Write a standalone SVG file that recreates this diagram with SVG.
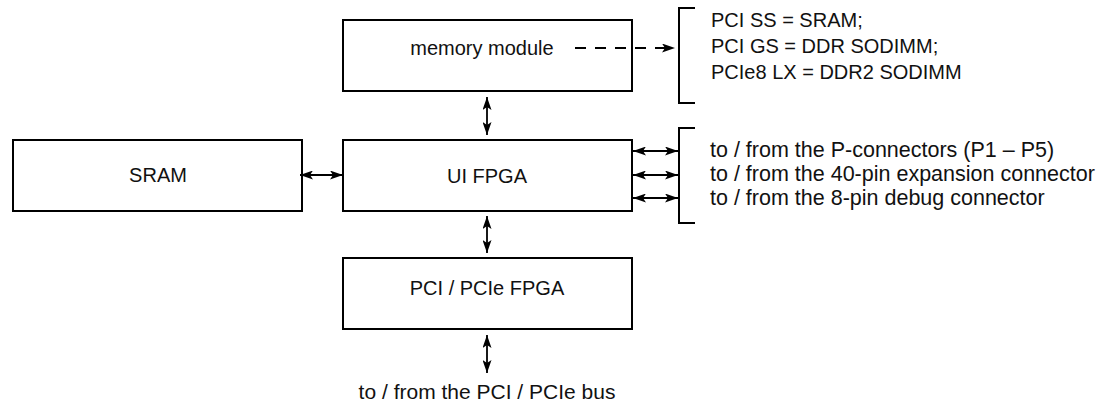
<svg xmlns="http://www.w3.org/2000/svg" width="1108" height="404" viewBox="0 0 1108 404">
<style>
.box{fill:#fff;stroke:#000;stroke-width:2}
.t{font-family:"Liberation Sans",Arial,sans-serif;font-size:20px;fill:#111}
.tl{font-size:21px}
.tr{font-size:21.5px}
.c{stroke:#000;stroke-width:1.8;fill:none}
.br{stroke:#000;stroke-width:2;fill:none}
</style>
<defs>
<marker id="ah" viewBox="0 0 13 9" refX="13" refY="4.5" markerWidth="13" markerHeight="9" markerUnits="userSpaceOnUse" orient="auto-start-reverse">
<path d="M0,0 L13,4.5 L0,9 L3,4.5 z" fill="#000"/>
</marker>
</defs>
<rect width="1108" height="404" fill="#fff"/>
<g id="memory-module">
<rect class="box" x="343" y="20" width="289" height="71"/>
<text class="t" x="482" y="55" text-anchor="middle">memory module</text>
</g>
<g id="sram">
<rect class="box" x="13" y="140" width="289" height="71"/>
<text class="t" x="158" y="182" text-anchor="middle">SRAM</text>
</g>
<g id="ui-fpga">
<rect class="box" x="343" y="140" width="289" height="71"/>
<text class="t" x="487" y="183" text-anchor="middle">UI FPGA</text>
</g>
<g id="pci-fpga">
<rect class="box" x="343" y="258" width="289" height="71"/>
<text class="t" x="487" y="295" text-anchor="middle">PCI / PCIe FPGA</text>
</g>
<g id="memory-note">
<path class="br" d="M695,8 H679 V103 H695"/>
<text class="t" x="711" y="27">PCI SS = SRAM;</text>
<text class="t" x="711" y="53">PCI GS = DDR SODIMM;</text>
<text class="t" x="711" y="79">PCIe8 LX = DDR2 SODIMM</text>
</g>
<g id="io-note">
<path class="br" d="M695,128 H679 V223 H695"/>
<text class="t tr" x="710" y="157">to / from the P-connectors (P1 – P5)</text>
<text class="t tr" x="710" y="181">to / from the 40-pin expansion connector</text>
<text class="t tr" x="710" y="205">to / from the 8-pin debug connector</text>
</g>
<g id="bus-label">
<text class="t tl" x="487" y="399" text-anchor="middle">to / from the PCI / PCIe bus</text>
</g>
<g id="connectors">
<line class="c" x1="575" y1="48" x2="675" y2="48" stroke-dasharray="11 9" marker-end="url(#ah)"/>
<line class="c" x1="487" y1="97" x2="487" y2="135" marker-start="url(#ah)" marker-end="url(#ah)"/>
<line class="c" x1="487" y1="216" x2="487" y2="253" marker-start="url(#ah)" marker-end="url(#ah)"/>
<line class="c" x1="487" y1="335" x2="487" y2="373" marker-start="url(#ah)" marker-end="url(#ah)"/>
<line class="c" x1="300" y1="175" x2="343" y2="175" marker-start="url(#ah)" marker-end="url(#ah)"/>
<line class="c" x1="633" y1="151" x2="678" y2="151" marker-start="url(#ah)" marker-end="url(#ah)"/>
<line class="c" x1="633" y1="175" x2="678" y2="175" marker-start="url(#ah)" marker-end="url(#ah)"/>
<line class="c" x1="633" y1="198" x2="678" y2="198" marker-start="url(#ah)" marker-end="url(#ah)"/>
</g>
</svg>
